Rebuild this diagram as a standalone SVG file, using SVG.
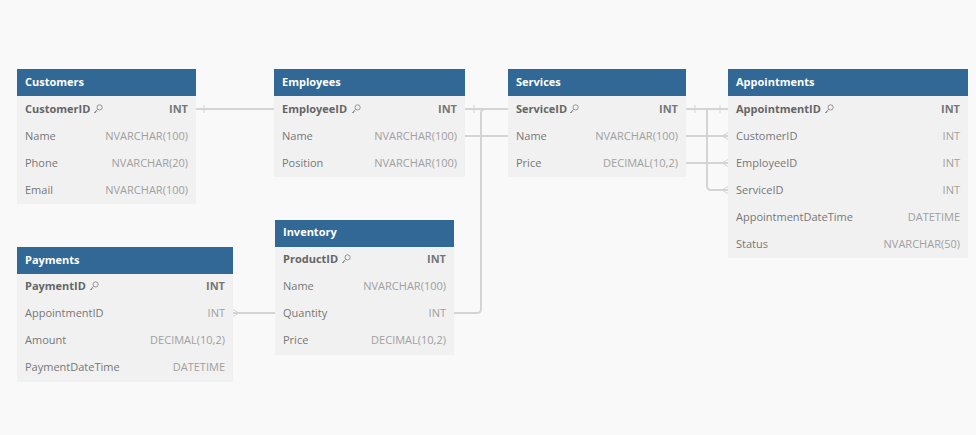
<svg xmlns="http://www.w3.org/2000/svg" width="976" height="435" viewBox="0 0 976 435">
<style>
.bg{fill:#f9f9f9}
.hd{fill:#316895}
.bd{fill:#f1f1f1}
.ht{font-family:"Open Sans","Liberation Sans",sans-serif;font-size:11px;font-weight:bold;fill:#ffffff}
.kn{font-family:"Open Sans","Liberation Sans",sans-serif;font-size:11px;font-weight:bold;fill:#666666}
.kt{font-family:"Open Sans","Liberation Sans",sans-serif;font-size:11px;font-weight:bold;fill:#777777;text-anchor:end}
.fn{font-family:"Open Sans","Liberation Sans",sans-serif;font-size:11px;fill:#777777}
.ft{font-family:"Open Sans","Liberation Sans",sans-serif;font-size:11px;fill:#a0a0a0;text-anchor:end}
.ln{fill:none;stroke:#d4d4d4;stroke-width:2}
.tk{fill:none;stroke:#d4d4d4;stroke-width:1}
.key{fill:none;stroke:#8a8a8a;stroke-width:0.9}
</style>
<defs>
<symbol id="k" viewBox="-5 -5 10 10" width="10" height="10" overflow="visible">
<circle cx="1.6" cy="-1.6" r="2.6"/>
<path d="M-0.2,0.2 L-4,4 M-3,3 L-2,4 M-1.8,1.8 L-0.8,2.8"/>
</symbol>
</defs>
<rect class="bg" x="0" y="0" width="976" height="435"/>
<g id="connectors">
<path class="ln" d="M196,109 H370 V136 H728"/>
<path class="ln" d="M465,109 H600 V163 H728"/>
<path class="ln" d="M686,109 H707 V186 Q707,190 711,190 H728"/>
<path class="ln" d="M233,313 H477 Q481,313 481,309 V113 Q481,109 485,109 H728"/>
<path class="tk" d="M204,105 V113 M474,105 V113 M695,105 V113 M720,105 V113"/>
<path class="tk" d="M722,136 L728,132.5 M722,136 L728,139.5 M722,163 L728,159.5 M722,163 L728,166.5 M722,190 L728,186.5 M722,190 L728,193.5 M239,313 L233,309.5 M239,313 L233,316.5"/>
</g>
<g id="Customers">
<rect class="bd" x="17" y="96" width="179" height="108"/>
<rect class="hd" x="17" y="69" width="179" height="27"/>
<text class="ht" x="25" y="85.5">Customers</text>
<text class="kn" x="25" y="112.5">CustomerID</text><use href="#k" x="93" y="104" class="key"/>
<text class="kt" x="188" y="112.5">INT</text>
<text class="fn" x="25" y="139.5">Name</text><text class="ft" x="188" y="139.5">NVARCHAR(100)</text>
<text class="fn" x="25" y="166.5">Phone</text><text class="ft" x="188" y="166.5">NVARCHAR(20)</text>
<text class="fn" x="25" y="193.5">Email</text><text class="ft" x="188" y="193.5">NVARCHAR(100)</text>
</g>
<g id="Employees">
<rect class="bd" x="274" y="96" width="191" height="81"/>
<rect class="hd" x="274" y="69" width="191" height="27"/>
<text class="ht" x="282" y="85.5">Employees</text>
<text class="kn" x="282" y="112.5">EmployeeID</text><use href="#k" x="351" y="104" class="key"/>
<text class="kt" x="457" y="112.5">INT</text>
<text class="fn" x="282" y="139.5">Name</text><text class="ft" x="457" y="139.5">NVARCHAR(100)</text>
<text class="fn" x="282" y="166.5">Position</text><text class="ft" x="457" y="166.5">NVARCHAR(100)</text>
</g>
<g id="Services">
<rect class="bd" x="508" y="96" width="178" height="81"/>
<rect class="hd" x="508" y="69" width="178" height="27"/>
<text class="ht" x="516" y="85.5">Services</text>
<text class="kn" x="516" y="112.5">ServiceID</text><use href="#k" x="569" y="104" class="key"/>
<text class="kt" x="678" y="112.5">INT</text>
<text class="fn" x="516" y="139.5">Name</text><text class="ft" x="678" y="139.5">NVARCHAR(100)</text>
<text class="fn" x="516" y="166.5">Price</text><text class="ft" x="678" y="166.5">DECIMAL(10,2)</text>
</g>
<g id="Appointments">
<rect class="bd" x="728" y="96" width="240" height="162"/>
<rect class="hd" x="728" y="69" width="240" height="27"/>
<text class="ht" x="736" y="85.5">Appointments</text>
<text class="kn" x="736" y="112.5">AppointmentID</text><use href="#k" x="824" y="104" class="key"/>
<text class="kt" x="960" y="112.5">INT</text>
<text class="fn" x="736" y="139.5">CustomerID</text><text class="ft" x="960" y="139.5">INT</text>
<text class="fn" x="736" y="166.5">EmployeeID</text><text class="ft" x="960" y="166.5">INT</text>
<text class="fn" x="736" y="193.5">ServiceID</text><text class="ft" x="960" y="193.5">INT</text>
<text class="fn" x="736" y="220.5">AppointmentDateTime</text><text class="ft" x="960" y="220.5">DATETIME</text>
<text class="fn" x="736" y="247.5">Status</text><text class="ft" x="960" y="247.5">NVARCHAR(50)</text>
</g>
<g id="Payments">
<rect class="bd" x="17" y="274" width="216" height="108"/>
<rect class="hd" x="17" y="247" width="216" height="27"/>
<text class="ht" x="25" y="263.5">Payments</text>
<text class="kn" x="25" y="289.5">PaymentID</text><use href="#k" x="89" y="281" class="key"/>
<text class="kt" x="225" y="289.5">INT</text>
<text class="fn" x="25" y="316.5">AppointmentID</text><text class="ft" x="225" y="316.5">INT</text>
<text class="fn" x="25" y="343.5">Amount</text><text class="ft" x="225" y="343.5">DECIMAL(10,2)</text>
<text class="fn" x="25" y="370.5">PaymentDateTime</text><text class="ft" x="225" y="370.5">DATETIME</text>
</g>
<g id="Inventory">
<rect class="bd" x="275" y="247" width="179" height="108"/>
<rect class="hd" x="275" y="220" width="179" height="27"/>
<text class="ht" x="283" y="235.5">Inventory</text>
<text class="kn" x="283" y="262.5">ProductID</text><use href="#k" x="341" y="254" class="key"/>
<text class="kt" x="446" y="262.5">INT</text>
<text class="fn" x="283" y="289.5">Name</text><text class="ft" x="446" y="289.5">NVARCHAR(100)</text>
<text class="fn" x="283" y="316.5">Quantity</text><text class="ft" x="446" y="316.5">INT</text>
<text class="fn" x="283" y="343.5">Price</text><text class="ft" x="446" y="343.5">DECIMAL(10,2)</text>
</g>
</svg>
